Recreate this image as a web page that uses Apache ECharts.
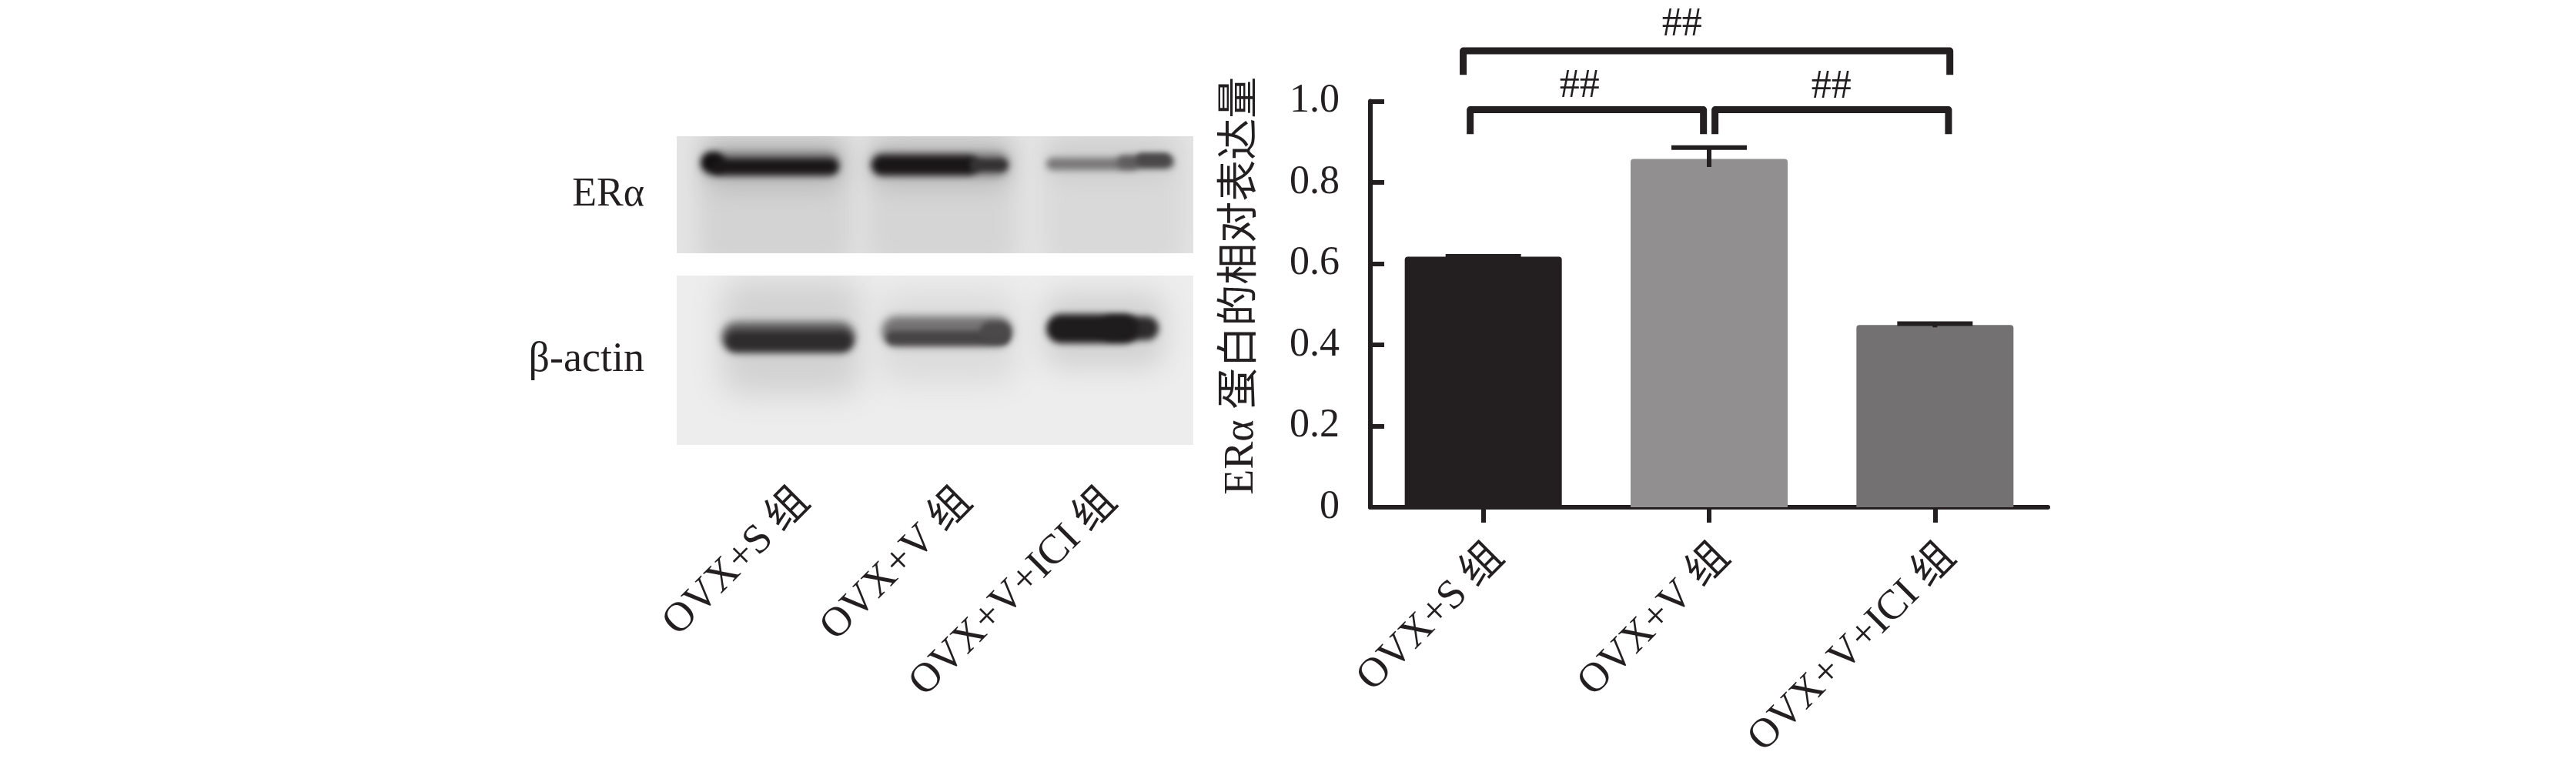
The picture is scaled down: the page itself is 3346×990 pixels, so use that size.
<!DOCTYPE html>
<html><head><meta charset="utf-8">
<style>html,body{margin:0;padding:0;background:#fff}#c{width:3346px;height:990px}</style>
<script src="https://cdn.jsdelivr.net/npm/echarts@6/dist/echarts.min.js"></script>
</head><body><div id="c"></div>
<script>
const categories = ['OVX+S 组', 'OVX+V 组', 'OVX+V+ICI 组'];
const barValues = [0.617, 0.858, 0.449];
const errHigh = [0.618, 0.886, 0.452];
const errLow = [0.610, 0.838, 0.443];
const barColors = ['#231f20', '#918f90', '#737172'];
const yTitle = 'ERα 蛋白的相对表达量';
const bandNames = ['ERα', 'β-actin'];
const brackets = [[-0.089, 2.066, 1.124, 1.065], [-0.058, 0.975, 0.979, 0.919], [1.026, 2.06, 0.979, 0.919]];
const marks = [[0.88, 1.188], [0.426, 1.036], [1.541, 1.035]];
const blotLabelEnds = [165, 376, 564];
// blot blobs: x0, y0, x1, y1, grey, blur (in panel pixels)
const blotA = [
  [28, -10, 228, 170, '#d3d3d3', 30],
  [246, -10, 442, 170, '#d5d5d5', 30],
  [476, -10, 660, 170, '#d9d9d9', 30],
  [38, 4, 216, 72, '#bfbfbf', 28],
  [254, 6, 432, 70, '#c1c1c1', 28],
  [482, 10, 642, 58, '#cfcfcf', 24],
  [32, 20, 212, 52, '#7d7b7c', 12],
  [252, 21, 432, 52, '#7d7b7c', 12],
  [32, 21, 62, 47, '#121011', 8],
  [44, 29, 210, 50, '#1a1718', 8],
  [254, 25, 392, 50, '#1a1718', 8],
  [380, 29, 430, 46, '#353334', 7],
  [480, 28, 600, 44, '#7a7879', 8],
  [572, 25, 646, 42, '#5f5d5e', 8],
  [596, 22, 642, 39, '#4a4849', 7]
];
const blotB = [
  [58, 5, 240, 155, '#d2d2d2', 40],
  [262, 20, 442, 140, '#dcdcdc', 38],
  [476, 22, 634, 120, '#d2d2d2', 36],
  [58, 60, 232, 100, '#615f60', 11],
  [64, 72, 228, 98, '#2e2c2d', 9],
  [266, 53, 436, 92, '#757374', 11],
  [272, 72, 432, 90, '#474546', 7],
  [394, 60, 434, 86, '#4b494a', 7],
  [550, 53, 626, 84, '#2e2c2d', 9],
  [480, 50, 600, 88, '#1f1c1d', 9]
];
const font = "'Liberation Serif','Noto Sans CJK SC',serif";
const ink = '#231f20';
const OFF = 6000;

function blobRender(params, api) {
  const p0 = api.coord([api.value(0), api.value(1)]);
  const p1 = api.coord([api.value(2), api.value(3)]);
  const row = params.seriesIndex === 3 ? blotB[params.dataIndex] : blotA[params.dataIndex];
  const h = p1[1] - p0[1];
  return {
    type: 'rect',
    shape: { x: p0[0] - OFF, y: p0[1], width: p1[0] - p0[0], height: h, r: Math.min(h / 2, 24) },
    style: { fill: row[4], shadowBlur: row[5], shadowColor: row[4], shadowOffsetX: OFF }
  };
}
const blobData = a => a.map(r => [r[0], r[1], r[2], r[3]]);

const hiddenPanelAxis = (grid, max, extra) => Object.assign({
  type: 'value', gridIndex: grid, min: 0, max, splitLine: { show: false },
  axisLine: { show: false }, axisTick: { show: false }, axisLabel: { show: false }
}, extra || {});

const option = {
  animation: false,
  backgroundColor: '#fff',
  textStyle: { fontFamily: font, color: ink },
  grid: [
    { left: 1780, top: 131.5, width: 880, height: 527.5 },
    { left: 879, top: 177, width: 671, height: 152, show: true, backgroundColor: '#e4e4e4', borderWidth: 0 },
    { left: 879, top: 358, width: 671, height: 220, show: true, backgroundColor: '#ededed', borderWidth: 0 }
  ],
  xAxis: [
    { type: 'category', gridIndex: 0, data: categories,
      axisLine: { onZero: false, lineStyle: { color: ink, width: 6 } },
      axisTick: { show: true, alignWithLabel: true, length: 20, lineStyle: { color: ink, width: 6 } },
      axisLabel: { rotate: 45, fontSize: 54, margin: 38, verticalAlign: 'top', color: ink, fontFamily: font } },
    { type: 'value', gridIndex: 0, min: -0.5, max: 2.5, show: false },
    hiddenPanelAxis(1, 671),
    hiddenPanelAxis(2, 671)
  ],
  yAxis: [
    { type: 'value', gridIndex: 0, min: 0, max: 1, interval: 0.2, splitLine: { show: false },
      axisLine: { show: true, onZero: false, lineStyle: { color: ink, width: 6 } },
      axisTick: { show: true, inside: true, length: 18, lineStyle: { color: ink, width: 6 } },
      axisLabel: { fontSize: 52, margin: 40, color: ink, fontFamily: font,
        formatter: v => v === 0 ? '0' : v.toFixed(1) },
      name: yTitle, nameLocation: 'middle', nameGap: 140, nameRotate: 90,
      nameTextStyle: { fontSize: 54, color: ink, fontFamily: font, padding: [0, 0, 0, 48] } },
    hiddenPanelAxis(1, 152, { inverse: true, name: bandNames[0], nameLocation: 'middle', nameRotate: 0, nameGap: 42,
      nameTextStyle: { fontSize: 52, color: ink, fontFamily: font } }),
    hiddenPanelAxis(2, 220, { inverse: true, name: bandNames[1], nameLocation: 'middle', nameRotate: 0, nameGap: 42,
      nameTextStyle: { fontSize: 54, color: ink, fontFamily: font } })
  ],
  series: [
    { type: 'bar', xAxisIndex: 0, yAxisIndex: 0, barWidth: 204,
      data: barValues.map((v, i) => ({ value: v, itemStyle: { color: barColors[i], borderRadius: [4, 4, 0, 0] } })) },
    { type: 'custom', xAxisIndex: 0, yAxisIndex: 0, z: 5, clip: false,
      data: categories.map((c, i) => [i, errLow[i], errHigh[i]]),
      renderItem(params, api) {
        const lo = api.coord([api.value(0), api.value(1)]);
        const hi = api.coord([api.value(0), api.value(2)]);
        const half = api.size([1, 0])[0] * 0.167;
        const s = { stroke: ink, lineWidth: 6, fill: null };
        return { type: 'group', children: [
          { type: 'line', shape: { x1: lo[0], y1: lo[1], x2: hi[0], y2: hi[1] }, style: s },
          { type: 'line', shape: { x1: hi[0] - half, y1: hi[1], x2: hi[0] + half, y2: hi[1] }, style: s }
        ] };
      } },
    { type: 'custom', xAxisIndex: 2, yAxisIndex: 1, clip: true, silent: true, data: blobData(blotA), renderItem: blobRender },
    { type: 'custom', xAxisIndex: 3, yAxisIndex: 2, clip: true, silent: true, data: blobData(blotB), renderItem: blobRender },
    { type: 'custom', xAxisIndex: 1, yAxisIndex: 0, clip: false, z: 6, data: brackets,
      renderItem(params, api) {
        const a = api.coord([api.value(0), api.value(3)]);
        const b = api.coord([api.value(0), api.value(2)]);
        const c = api.coord([api.value(1), api.value(2)]);
        const d = api.coord([api.value(1), api.value(3)]);
        return { type: 'polyline', shape: { points: [a, b, c, d] },
          style: { stroke: ink, lineWidth: 9, fill: null, lineJoin: 'round', lineCap: 'butt' } };
      } },
    { type: 'custom', xAxisIndex: 1, yAxisIndex: 0, clip: false, z: 6, data: marks,
      renderItem(params, api) {
        const p = api.coord([api.value(0), api.value(1)]);
        return { type: 'text', x: p[0], y: p[1],
          style: { text: '##', fontSize: 52, fontFamily: font, fill: ink, align: 'center', verticalAlign: 'middle' } };
      } },
    { type: 'custom', xAxisIndex: 3, yAxisIndex: 2, clip: false, z: 6,
      data: blotLabelEnds.map(x => [x, 286]),
      renderItem(params, api) {
        const p = api.coord([api.value(0), api.value(1)]);
        return { type: 'text', x: p[0], y: p[1], rotation: Math.PI / 4,
          style: { text: categories[params.dataIndex], fontSize: 54, fontFamily: font, fill: ink, align: 'right', verticalAlign: 'middle' } };
      } }
  ]
};
const chart = echarts.init(document.getElementById('c'), null, { renderer: 'canvas' });
chart.setOption(option);
</script></body></html>
